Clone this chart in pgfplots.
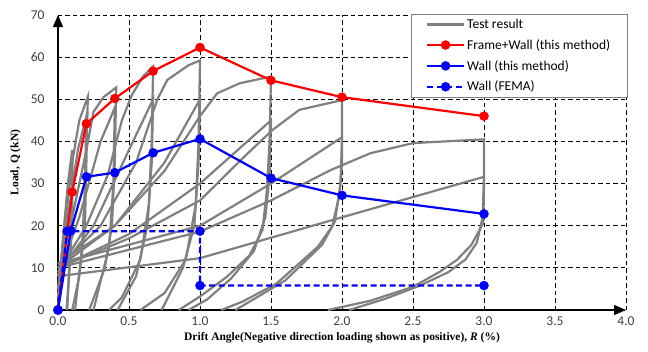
\documentclass[border=0pt]{standalone}
\usepackage{fontspec}
\setmainfont{Carlito}
\newfontfamily\tnr{Liberation Serif}
\usepackage{pgfplots}
\pgfplotsset{compat=1.18}
\usetikzlibrary{arrows.meta}
\definecolor{testgray}{RGB}{128,128,128}
\definecolor{ticktxt}{RGB}{64,64,64}
\begin{document}
\begin{tikzpicture}
\begin{axis}[
  scale only axis, width=568pt, height=295pt,
  xmin=0, xmax=4, ymin=0, ymax=70,
  xtick={0,0.5,...,4}, ytick={0,10,...,70},
  axis lines=left,
  axis line style={line width=1.2pt,-{Triangle[length=12pt,width=10pt]}},
  major tick length=0pt,
  grid=major,
  major grid style={black, line width=0.9pt, dash pattern=on 4.5pt off 3pt},
  /pgf/number format/assume math mode=true,
  ticklabel style={font=\fontsize{13.5}{15}\selectfont, text=ticktxt},
  xticklabel style={yshift=-3pt, /pgf/number format/.cd, fixed, fixed zerofill, precision=1},
  yticklabel style={xshift=-10pt},
  xlabel={\tnr\bfseries Drift Angle(Negative direction loading shown as positive), \textit{R} (\%)},
  ylabel={\tnr\bfseries Load, Q (kN)},
  label style={font=\fontsize{11.5}{13}\selectfont},
  xlabel style={yshift=0pt},
  ylabel style={yshift=3pt},
  legend style={at={(1.003,1.005)}, anchor=north east, draw=testgray, line width=0.9pt,
    font=\fontsize{13.5}{15}\selectfont, inner xsep=15pt, inner ysep=3pt,
    row sep=5.5pt, cells={anchor=west}},
  legend image code/.code={\draw[mark repeat=2,mark phase=2,#1] plot coordinates {(0cm,0cm) (0.65cm,0cm) (1.3cm,0cm)};},
  clip=false,
]
\coordinate (bl) at (rel axis cs:0,0);
% ---------- Test result (hysteresis loops) ----------
\addplot[testgray, line width=2.2pt] coordinates {(0,0) (0.03,15) (0.07,30) (0.1,38) (0.1,28) (0.09,14) (0.06,0)};
\addplot[testgray, line width=2.2pt, forget plot] coordinates {(0,3) (0.04,18) (0.08,32) (0.1,36) (0.1,25) (0.08,10) (0.065,0)};
\addplot[testgray, line width=2.2pt, forget plot] coordinates {(0,5) (0.05,20) (0.1,35) (0.15,45) (0.21,50.6) (0.2,35) (0.19,20) (0.15,8) (0.1,0)};
\addplot[testgray, line width=2.2pt, forget plot] coordinates {(0,5) (0.07,22) (0.14,38) (0.2,46) (0.19,30) (0.17,15) (0.12,0)};
\addplot[testgray, line width=2.2pt, forget plot] coordinates {(0,8) (0.1,22) (0.2,38) (0.25,47) (0.32,50.5) (0.41,52.8) (0.4,35) (0.38,20) (0.33,10) (0.22,0)};
\addplot[testgray, line width=2.2pt, forget plot] coordinates {(0,8) (0.15,22) (0.3,40) (0.4,48) (0.39,30) (0.36,15) (0.25,0)};
\addplot[testgray, line width=2.2pt, forget plot] coordinates {(0,9) (0.2,20) (0.35,32) (0.45,45) (0.52,51) (0.6,55.5) (0.67,57.8) (0.66,40) (0.64,25) (0.58,12) (0.45,3) (0.36,0)};
\addplot[testgray, line width=2.2pt, forget plot] coordinates {(0,9) (0.25,20) (0.5,38) (0.67,50) (0.66,35) (0.63,20) (0.55,8) (0.42,0)};
\addplot[testgray, line width=2.2pt, forget plot] coordinates {(0,10) (0.3,20) (0.55,35) (0.7,50) (0.77,54.6) (0.92,58.1) (1.0,59.2) (0.99,40) (0.97,25) (0.9,12) (0.75,4) (0.58,0)};
\addplot[testgray, line width=2.2pt, forget plot] coordinates {(0,10) (0.4,20) (0.75,35) (1.0,50) (0.99,35) (0.96,20) (0.88,10) (0.73,0)};
\addplot[testgray, line width=2.2pt, forget plot] coordinates {(0,11) (0.4,20) (0.75,33) (1.0,46) (1.12,51.4) (1.28,53.8) (1.5,55.4) (1.49,40) (1.47,28) (1.44,19) (1.35,13) (1.19,7.9) (1.0,3.2) (0.85,0)};
\addplot[testgray, line width=2.2pt, forget plot] coordinates {(0,10) (0.5,18) (1.0,30) (1.5,45) (1.49,32) (1.46,22) (1.38,14) (1.22,7.5) (1.05,2.5) (0.92,0)};
\addplot[testgray, line width=2.2pt, forget plot] coordinates {(0,10) (0.5,17) (1.0,26) (1.3,36) (1.51,42.7) (1.7,47.5) (2.0,49.8) (2.0,35) (1.98,27) (1.93,19.8) (1.83,15) (1.54,6.3) (1.3,2) (1.15,0)};
\addplot[testgray, line width=2.2pt, forget plot] coordinates {(0,11) (1.0,20) (1.5,30) (2.0,41) (1.99,30) (1.95,21) (1.86,15.5) (1.6,7) (1.35,2) (1.25,0)};
\addplot[testgray, line width=2.2pt, forget plot] coordinates {(0,10) (1.0,18.6) (1.5,26) (1.92,33.2) (2.2,37.2) (2.5,39.6) (3.0,40.5) (3.0,30) (2.995,20.6) (2.91,15.4) (2.81,11.9) (2.69,9.1) (2.5,5.5) (2.2,2.2) (1.9,0)};
\addplot[testgray, line width=2.2pt, forget plot] coordinates {(0,8) (1.0,12.3) (2.0,22) (3.0,31.6) (2.99,22) (2.95,16) (2.87,12) (2.75,9) (2.55,5.8) (2.3,2.6) (2.05,0)};
% ---------- Frame+Wall ----------
\addplot[red, line width=2.2pt, mark=*, mark size=3.6pt] coordinates {(0,0) (0.1,28) (0.2,44.2) (0.4,50.2) (0.67,56.7) (1.0,62.3) (1.5,54.5) (2.0,50.5) (3.0,46)};
% ---------- Wall ----------
\addplot[blue, line width=2.2pt, mark=*, mark size=3.6pt] coordinates {(0,0) (0.09,18.8) (0.2,31.6) (0.4,32.6) (0.67,37.3) (1.0,40.6) (1.5,31.3) (2.0,27.2) (3.0,22.8)};
% ---------- Wall (FEMA) ----------
\addplot[blue, line width=2.2pt, dash pattern=on 6pt off 3.5pt, mark=*, mark size=3.6pt, mark options={solid}] coordinates {(0,0) (0.065,18.7) (1.0,18.7) (1.0,5.8) (3.0,5.8)};
\legend{Test result, Frame+Wall (this method), Wall (this method), Wall (FEMA)}
\end{axis}
\path (bl) ++(-58pt,-41pt) rectangle ++(648pt,351pt);
\end{tikzpicture}
\end{document}
